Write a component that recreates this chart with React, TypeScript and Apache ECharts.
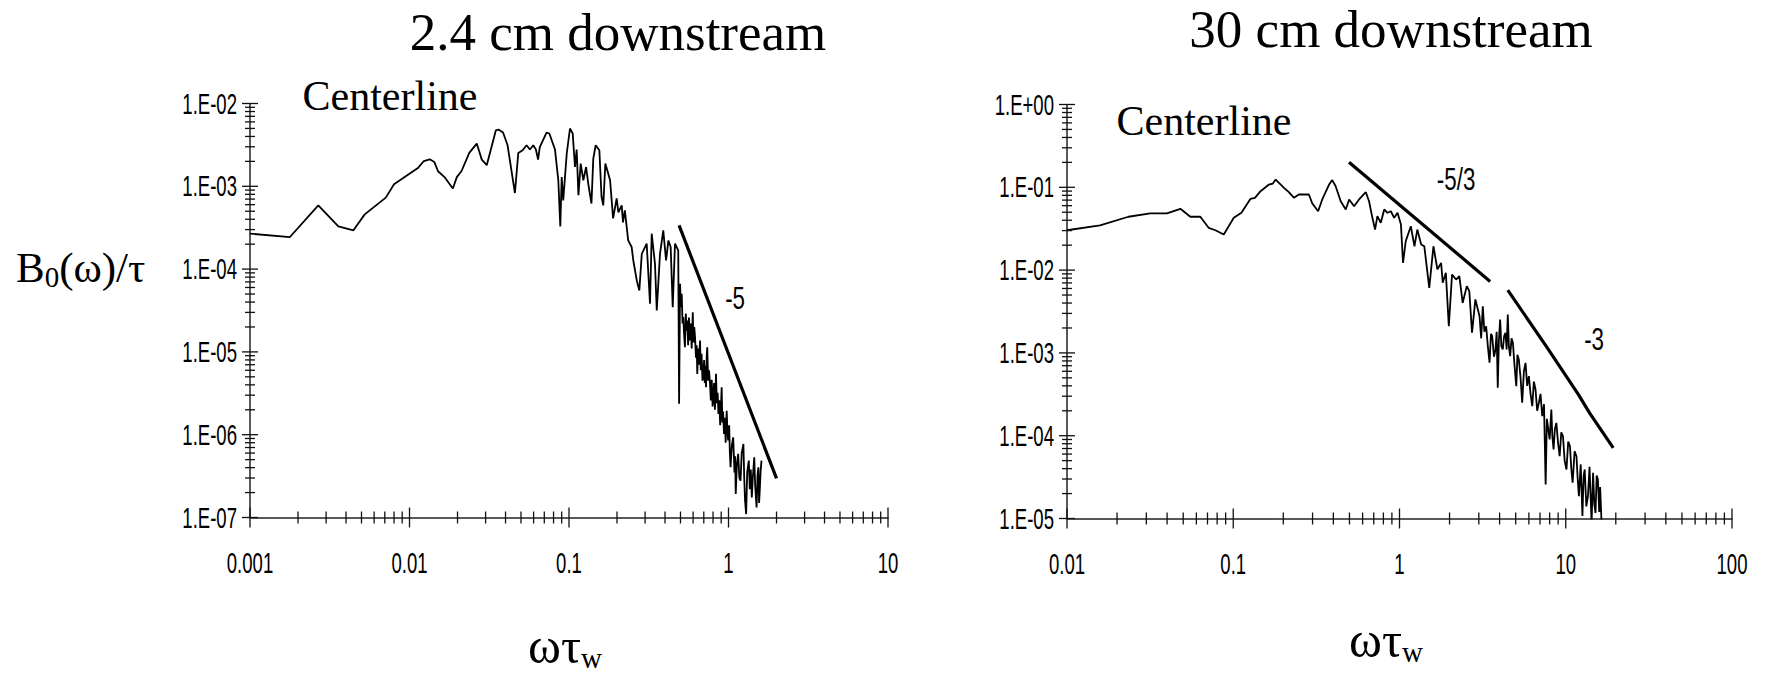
import React, { useEffect, useRef } from 'react';
import * as echarts from 'echarts';

// ---------- data: 2.4 cm downstream ----------
const leftFreq = [0.001,0.00178,0.00268,0.00358,0.00445,0.00524,0.0071,0.0080,0.01135,0.0123,
0.0134,0.0143,0.0151,0.0167,0.0187,0.0198,0.0212,0.0237,0.0264,0.0284,
0.0305,0.0348,0.0361,0.0386,0.0412,0.0458,0.0481,0.0512,0.0542,0.0569,
0.0597,0.062,0.064,0.0656,0.0723,0.0753,0.0817,0.0857,0.0882,0.090,
0.092,0.0968,0.1014,0.1055,0.109,0.1117,0.1146,0.1184,0.123,0.128,
0.132,0.1383,0.142,0.147,0.155,0.160,0.164,0.169,
0.181,0.189,0.199,0.204,0.214,0.218,0.224,0.235,0.247,0.253,
0.266,0.276,0.286,0.307,0.322,0.330,0.346,0.355,0.372,0.39,
0.406,0.420,0.434,0.447,0.462,0.484,0.49,
0.497,0.503,0.509,0.515,0.521,0.527,0.533,0.540,0.546,0.552,
0.558,0.565,0.574,0.580,0.588,0.597,0.603,0.610,0.617,0.625,
0.632,0.637,0.645,0.652,0.663,0.670,0.678,0.687,0.695,0.703,
0.710,0.716,0.723,0.730,0.736,0.745,0.755,0.766,0.775,0.785,
0.795,0.803,0.812,0.822,0.835,0.845,0.855,0.865,0.875,0.887,
0.897,0.906,0.915,0.925,0.937,0.948,0.960,0.974,0.985,0.995,
1.01,1.02,1.03,1.05,1.07,1.09,1.10,1.11,1.13,1.15,
1.17,1.19,1.21,1.24,1.255,1.27,1.29,1.31,1.34,1.36,
1.38,1.40,1.42,1.45,1.47,1.50,1.52,1.54,1.555,1.57,
1.59,1.61];
const leftSpec = [2.68e-4,2.44e-4,5.89e-4,3.28e-4,2.94e-4,4.58e-4,7.3e-4,1.06e-3,1.68e-3,2.02e-3,
2.12e-3,1.97e-3,1.52e-3,1.27e-3,9.4e-4,1.29e-3,1.53e-3,2.53e-3,3.28e-3,2.1e-3,
1.8e-3,4.75e-3,4.85e-3,4.46e-3,3.13e-3,8.3e-4,2.53e-3,2.72e-3,3.13e-3,2.78e-3,
3.13e-3,2.78e-3,2.1e-3,2.98e-3,4.46e-3,4.34e-3,2.78e-3,1.18e-3,3.28e-4,1.29e-3,
6.77e-4,2.49e-3,4.99e-3,4.34e-3,1.71e-3,2.78e-3,7.8e-4,1.88e-3,1.18e-3,1.71e-3,
1.08e-3,6.2e-4,2.16e-3,3.13e-3,2.72e-3,7.43e-4,5.89e-4,1.88e-3,
1.18e-3,4.1e-4,7.16e-4,4.85e-4,5.89e-4,3.67e-4,5.13e-4,2.22e-4,1.85e-4,1.27e-4,
7.3e-5,5.52e-5,1.53e-4,2.03e-4,3.82e-5,2.68e-4,1.16e-4,3.17e-5,1.53e-4,2.94e-4,
1.27e-4,2.22e-4,1.85e-4,3.47e-5,2.03e-4,1.68e-4,2.36e-6,
6.65e-5,3.5e-5,5.04e-5,2.2e-5,2.63e-5,1.6e-5,1.14e-5,2.9e-5,1.8e-5,2.4e-5,
1.2e-5,2.6e-5,1.37e-5,2.2e-5,1.1e-5,3.02e-5,1.3e-5,2.0e-5,1.51e-5,8.5e-6,
1.2e-5,5.43e-6,1.1e-5,7.0e-6,1.37e-5,6.0e-6,9.5e-6,4.5e-6,4.94e-6,8.0e-6,
4.2e-6,6.8e-6,3.74e-6,9.0e-6,1.14e-5,4.5e-6,6.0e-6,4.11e-6,2.6e-6,4.6e-6,
2.2e-6,2.83e-6,4.2e-6,2.0e-6,5.43e-6,2.4e-6,3.2e-6,1.78e-6,2.6e-6,1.3e-6,
2.2e-6,3.74e-6,1.4e-6,1.9e-6,1.02e-6,1.6e-6,8.0e-7,1.95e-6,1.1e-6,8.5e-7,
1.3e-6,6.0e-7,4.04e-7,7.5e-7,9.3e-7,3.5e-7,5.5e-7,1.92e-7,4.5e-7,5.86e-7,
3.0e-7,2.79e-7,6.0e-7,7.74e-7,3.0e-7,1.6e-7,1.1e-7,3.5e-7,4.86e-7,2.2e-7,
3.8e-7,1.75e-7,3.0e-7,5.33e-7,2.4e-7,1.32e-7,3.2e-7,4.04e-7,1.5e-7,2.11e-7,
3.6e-7,4.86e-7];
const slope5X = [0.49, 2.0];
const slope5Y = [3.37e-4, 2.97e-7];

// ---------- data: 30 cm downstream ----------
const rightFreq = [0.01,0.0158,0.0234,0.0317,0.0399,0.0481,0.0552,0.0634,0.0711,0.0781,
0.0877,0.1007,0.112,0.127,0.135,0.146,0.164,0.173,0.180,0.193,
0.202,0.216,0.232,0.248,0.285,0.299,0.324,0.343,0.377,0.394,
0.413,0.443,0.475,0.498,0.533,0.571,0.627,0.656,0.687,0.713,
0.736,0.772,0.809,0.847,0.887,0.929,0.973,1.02,1.05,1.09,
1.17,1.23,1.28,1.35,1.41,1.51,1.60,1.69,1.78,1.82,
1.90,1.98,2.07,2.19,2.29,2.40,2.54,2.63,2.73,2.86,
3.03,3.10,3.17,3.24,3.32,3.40,3.48,3.55,3.61,3.70,
3.78,3.84,3.90,3.96,4.03,4.10,4.18,4.26,4.34,4.41,
4.48,4.55,4.63,4.72,4.81,4.92,5.04,5.12,5.22,5.35,
5.47,5.60,5.73,5.86,6.0,6.14,6.29,6.43,6.58,6.73,
6.89,7.05,7.22,7.40,7.57,7.70,7.81,8.0,8.19,8.30,
8.45,8.60,8.78,9.0,9.19,9.40,9.62,9.85,10.1,10.35,
10.6,10.8,11.0,11.3,11.6,11.8,12.0,12.3,12.6,12.8,
13.0,13.3,13.6,13.9,14.3,14.6,14.85,15.1,15.35,15.6,
15.9,16.1,16.4];
const rightSpec = [0.0303,0.0346,0.0441,0.0483,0.0483,0.055,0.0441,0.0441,0.0324,0.0303,
0.0269,0.0428,0.0492,0.0726,0.0747,0.0897,0.108,0.111,0.124,0.108,
0.0986,0.0873,0.0747,0.0818,0.0818,0.0637,0.0514,0.0713,0.108,0.122,
0.103,0.0679,0.054,0.0713,0.0591,0.0713,0.0873,0.0679,0.0428,0.0309,
0.0448,0.0373,0.054,0.0492,0.0514,0.0428,0.0492,0.0356,0.0122,0.0223,
0.0339,0.0194,0.0309,0.0204,0.0194,0.0061,0.0194,0.0102,0.0122,0.00703,
0.00927,0.0021,0.00885,0.00769,0.00844,0.00403,0.0064,0.00556,0.00175,0.00442,
0.00277,0.0015,0.00366,0.0018,0.0021,0.0012,7.6e-4,0.0017,0.00159,9.0e-4,
0.0011,0.0018,3.79e-4,0.0014,0.00253,0.0012,0.0011,0.0016,0.00175,0.0011,
0.00291,0.0012,9.12e-4,0.0015,0.00132,7.0e-4,3.96e-4,9.5e-4,8.32e-4,5.0e-4,
2.5e-4,6.0e-4,7.59e-4,4.0e-4,5.24e-4,3.2e-4,2.27e-4,4.5e-4,3.61e-4,2.0e-4,
2.5e-4,3.2e-4,1.72e-4,2.4e-4,2.57e-5,1.6e-4,1.3e-4,9.0e-5,2.07e-4,1.0e-4,
6.81e-5,1.2e-4,1.43e-4,8.0e-5,5.65e-5,1.1e-4,9.86e-5,5.0e-5,3.91e-5,8.5e-5,
7.46e-5,4.0e-5,2.7e-5,6.5e-5,5.65e-5,3.0e-5,1.86e-5,4.5e-5,1.07e-5,3.2e-5,
3.91e-5,1.4e-5,1.86e-5,4.2e-5,9e-6,3.56e-5,1.5e-5,1.17e-5,3.3e-5,2.96e-5,
1.2e-5,2.4e-5,9.5e-6];
const slope53X = [0.497, 3.51];
const slope53Y = [0.201, 7.3e-3];
const slope3X = [4.48, 7.64, 11.9, 13.9, 19.3];
const slope3Y = [5.72e-3, 1.2e-3, 3.15e-4, 1.89e-4, 7.14e-5];

// ---------- tick labels ----------
const leftXTickValues = [0.001, 0.01, 0.1, 1, 10];
const leftXTickLabels = ['0.001', '0.01', '0.1', '1', '10'];
const rightXTickValues = [0.01, 0.1, 1, 10, 100];
const rightXTickLabels = ['0.01', '0.1', '1', '10', '100'];
const leftYTickValues = [1e-7, 1e-6, 1e-5, 1e-4, 1e-3, 1e-2];
const leftYTickLabels = ['1.E-07', '1.E-06', '1.E-05', '1.E-04', '1.E-03', '1.E-02'];
const rightYTickValues = [1e-5, 1e-4, 1e-3, 1e-2, 1e-1, 1];
const rightYTickLabels = ['1.E-05', '1.E-04', '1.E-03', '1.E-02', '1.E-01', '1.E+00'];
const minorMultipliers = [1, 2, 3, 4, 5, 6, 7, 8, 9];

// ---------- slope annotations ----------
const slopeLabelText = ['-5', '-5/3', '-3'];
const slopeLabelX = [1.1, 2.19, 14.8];
const slopeLabelY = [4.4e-5, 0.122, 1.45e-3];

const SANS = '"Liberation Sans", Arial, "DejaVu Sans", sans-serif';
const SERIF = '"Liberation Serif", "Times New Roman", "DejaVu Serif", serif';

const zip = (a: number[], b: number[]) => a.map((v, i) => [v, b[i]]);

function tickData(xMin: number, xMax: number, yMin: number, yMax: number) {
  const out: number[][] = [];
  const ex0 = Math.round(Math.log10(xMin)), ex1 = Math.round(Math.log10(xMax));
  for (let e = ex0; e <= ex1; e++) {
    for (const m of minorMultipliers) {
      const v = m * Math.pow(10, e);
      if (v <= xMax * 1.0001) out.push([v, yMin, 0, m === 1 ? 10 : 6]);
    }
  }
  const ey0 = Math.round(Math.log10(yMin)), ey1 = Math.round(Math.log10(yMax));
  for (let e = ey0; e <= ey1; e++) {
    for (const m of minorMultipliers) {
      const v = m * Math.pow(10, e);
      if (v <= yMax * 1.0001) out.push([xMin, v, 1, m === 1 ? 8 : 5]);
    }
  }
  return out;
}

export default function App() {
  const ref = useRef<HTMLDivElement>(null);
  useEffect(() => {
    if (!ref.current) return;
    const chart = echarts.init(ref.current, undefined, { renderer: 'svg' });

    const axisLine = { show: true, onZero: false, lineStyle: { color: '#222', width: 1.5 } };

    const tickSeries = (gi: number, d: number[][]) => ({
      type: 'custom',
      xAxisIndex: gi,
      yAxisIndex: gi,
      silent: true,
      clip: false,
      dimensions: ['x', 'y', 'dir', 'len'],
      encode: { x: 0, y: 1 },
      data: d,
      z: 5,
      renderItem: (_p: any, api: any) => {
        const pt = api.coord([api.value(0), api.value(1)]);
        const dir = api.value(2);
        const len = api.value(3);
        const shape = dir === 0
          ? { x1: pt[0], y1: pt[1] - len, x2: pt[0], y2: pt[1] + len }
          : { x1: pt[0] - len, y1: pt[1], x2: pt[0] + len, y2: pt[1] };
        return { type: 'line', shape, style: { stroke: '#111', lineWidth: 1.3 } };
      },
    });

    // texts in a narrow face, placed through the axes' own scales
    const textSeries = (
      gi: number, pts: number[][], texts: string[], dx: number, dy: number,
      align: string, size: number, narrow: number,
    ) => ({
      type: 'custom',
      xAxisIndex: gi,
      yAxisIndex: gi,
      silent: true,
      clip: false,
      encode: { x: 0, y: 1 },
      data: pts,
      z: 6,
      renderItem: (p: any, api: any) => {
        const pt = api.coord([api.value(0), api.value(1)]);
        return {
          type: 'text',
          x: pt[0] + dx,
          y: pt[1] + dy,
          scaleX: narrow,
          style: {
            text: texts[p.dataIndex],
            font: `${size}px ${SANS}`,
            fill: '#000',
            align,
            verticalAlign: 'middle',
          },
        };
      },
    });

    const xAxes = [
      { min: 0.001, max: 10 },
      { min: 0.01, max: 100 },
    ];
    const yAxes = [
      { min: 1e-7, max: 1e-2 },
      { min: 1e-5, max: 1 },
    ];
    const dataLine = { color: '#000', width: 1.8 };
    const slopeLine = { color: '#000', width: 3.2 };

    const option: any = {
      animation: false,
      backgroundColor: '#fff',
      grid: [
        { left: 250, top: 103.5, width: 638, height: 414 },
        { left: 1067, top: 104.5, width: 665, height: 414 },
      ],
      xAxis: xAxes.map((a, i) => ({
        type: 'log', gridIndex: i, min: a.min, max: a.max, logBase: 10,
        axisLine, axisTick: { show: false }, splitLine: { show: false }, axisLabel: { show: false },
      })),
      yAxis: yAxes.map((a, i) => ({
        type: 'log', gridIndex: i, min: a.min, max: a.max, logBase: 10,
        axisLine, axisTick: { show: false }, splitLine: { show: false }, axisLabel: { show: false },
      })),
      series: [
        {
          name: '2.4 cm', type: 'line', xAxisIndex: 0, yAxisIndex: 0,
          data: zip(leftFreq, leftSpec), showSymbol: false, symbol: 'none',
          lineStyle: dataLine, clip: true, z: 3,
        },
        {
          name: 'slope -5', type: 'line', xAxisIndex: 0, yAxisIndex: 0,
          data: zip(slope5X, slope5Y), showSymbol: false, symbol: 'none',
          lineStyle: slopeLine, z: 3,
        },
        {
          name: '30 cm', type: 'line', xAxisIndex: 1, yAxisIndex: 1,
          data: zip(rightFreq, rightSpec), showSymbol: false, symbol: 'none',
          lineStyle: dataLine, clip: true, z: 3,
        },
        {
          name: 'slope -5/3', type: 'line', xAxisIndex: 1, yAxisIndex: 1,
          data: zip(slope53X, slope53Y), showSymbol: false, symbol: 'none',
          lineStyle: slopeLine, z: 3,
        },
        {
          name: 'slope -3', type: 'line', xAxisIndex: 1, yAxisIndex: 1,
          data: zip(slope3X, slope3Y), showSymbol: false, symbol: 'none',
          lineStyle: slopeLine, z: 3,
        },
        tickSeries(0, tickData(0.001, 10, 1e-7, 1e-2)),
        tickSeries(1, tickData(0.01, 100, 1e-5, 1)),
        textSeries(0, leftXTickValues.map((v) => [v, 1e-7]), leftXTickLabels, 0, 45, 'center', 29, 0.64),
        textSeries(1, rightXTickValues.map((v) => [v, 1e-5]), rightXTickLabels, 0, 45, 'center', 29, 0.64),
        textSeries(0, leftYTickValues.map((v) => [0.001, v]), leftYTickLabels, -13, 0, 'right', 29, 0.64),
        textSeries(1, rightYTickValues.map((v) => [0.01, v]), rightYTickLabels, -13, 0, 'right', 29, 0.64),
        textSeries(0, [[slopeLabelX[0], slopeLabelY[0]]], [slopeLabelText[0]], 0, 0, 'center', 31, 0.72),
        textSeries(1, slopeLabelX.slice(1).map((x, i) => [x, slopeLabelY[i + 1]]), slopeLabelText.slice(1), 0, 0, 'center', 31, 0.72),
      ],
      graphic: [
        { type: 'text', x: 618, y: 32, style: { text: '2.4 cm downstream', font: `53px ${SERIF}`, fill: '#000', align: 'center', verticalAlign: 'middle' } },
        { type: 'text', x: 1391, y: 29, style: { text: '30 cm downstream', font: `53px ${SERIF}`, fill: '#000', align: 'center', verticalAlign: 'middle' } },
        { type: 'text', x: 390, y: 96, style: { text: 'Centerline', font: `42px ${SERIF}`, fill: '#000', align: 'center', verticalAlign: 'middle' } },
        { type: 'text', x: 1204, y: 121, style: { text: 'Centerline', font: `42px ${SERIF}`, fill: '#000', align: 'center', verticalAlign: 'middle' } },
        {
          type: 'text', x: 16, y: 267,
          style: {
            text: '{m|B}{s|0}{m|(ω)/τ}', align: 'left', verticalAlign: 'middle', fill: '#000',
            rich: {
              m: { fontFamily: SERIF, fontSize: 43, lineHeight: 48, fill: '#000' },
              s: { fontFamily: SERIF, fontSize: 29, lineHeight: 12, verticalAlign: 'bottom', fill: '#000' },
            },
          },
        },
        {
          type: 'text', x: 565, y: 646,
          style: {
            text: '{m|ωτ}{s|w}', align: 'center', verticalAlign: 'middle', fill: '#000',
            rich: {
              m: { fontFamily: SERIF, fontSize: 50, lineHeight: 52, fill: '#000' },
              s: { fontFamily: SERIF, fontSize: 29, lineHeight: 14, verticalAlign: 'bottom', fill: '#000' },
            },
          },
        },
        {
          type: 'text', x: 1386, y: 640,
          style: {
            text: '{m|ωτ}{s|w}', align: 'center', verticalAlign: 'middle', fill: '#000',
            rich: {
              m: { fontFamily: SERIF, fontSize: 50, lineHeight: 52, fill: '#000' },
              s: { fontFamily: SERIF, fontSize: 29, lineHeight: 14, verticalAlign: 'bottom', fill: '#000' },
            },
          },
        },
      ],
    };
    chart.setOption(option);
    return () => chart.dispose();
  }, []);
  return (
    <div
      ref={ref}
      style={{ position: 'fixed', left: 0, top: 0, width: 1766, height: 674, background: '#fff' }}
    />
  );
}
